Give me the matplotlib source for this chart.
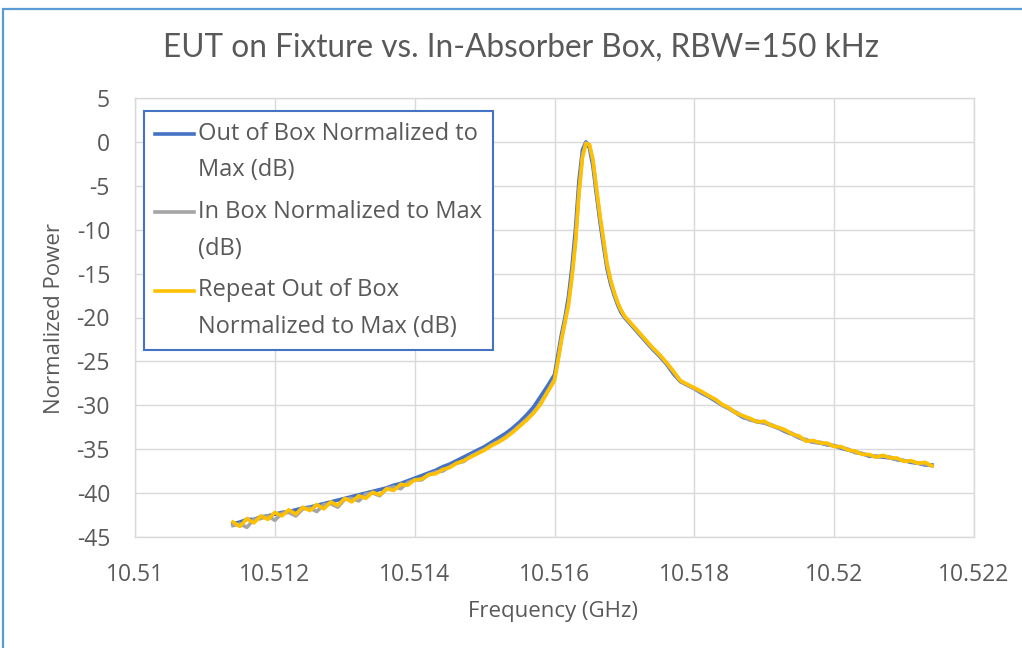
import numpy as np
import matplotlib
matplotlib.use("Agg")
import matplotlib.pyplot as plt
from matplotlib.legend_handler import HandlerLine2D
from matplotlib.patches import Rectangle

# frequency grid (GHz)
freq_low = [10.5114, 10.5115, 10.5116, 10.5117, 10.5118, 10.5119, 10.5120, 10.5121, 10.5122, 10.5123,
            10.5124, 10.5125, 10.5126, 10.5127, 10.5128, 10.5129, 10.5130, 10.5131, 10.5132, 10.5133,
            10.5134, 10.5135, 10.5136, 10.5137, 10.5138, 10.5139, 10.5140, 10.5141, 10.5142, 10.5143,
            10.5144, 10.5145, 10.5146, 10.5147, 10.5148, 10.5149, 10.5150, 10.5151, 10.5152, 10.5153,
            10.5154, 10.5155, 10.5156, 10.5157, 10.5158, 10.5159]
freq_peak = [10.51600, 10.51605, 10.51610, 10.51615, 10.51620, 10.51625, 10.51630, 10.51635, 10.51640,
             10.51645, 10.51650, 10.51655, 10.51660, 10.51665, 10.51670, 10.51675, 10.51680, 10.51685,
             10.51690, 10.51695, 10.51700]
freq_high = [10.5171, 10.5172, 10.5173, 10.5174, 10.5175, 10.5176, 10.5177, 10.5178, 10.5179, 10.5180,
             10.5181, 10.5182, 10.5183, 10.5184, 10.5185, 10.5186, 10.5187, 10.5188, 10.5189, 10.5190,
             10.5191, 10.5192, 10.5193, 10.5194, 10.5195, 10.5196, 10.5197, 10.5198, 10.5199, 10.5200,
             10.5201, 10.5202, 10.5203, 10.5204, 10.5205, 10.5206, 10.5207, 10.5208, 10.5209, 10.5210,
             10.5211, 10.5212, 10.5213, 10.5214]

# Out of Box normalized to max (dB)
out_box = [-43.5, -43.3, -43.0, -43.0, -42.7, -42.6, -42.4, -42.2, -42.1, -41.9,
           -41.7, -41.6, -41.4, -41.2, -41.0, -40.8, -40.6, -40.4, -40.2, -40.0,
           -39.8, -39.6, -39.4, -39.1, -38.9, -38.6, -38.3, -38.0, -37.7, -37.4,
           -37.0, -36.7, -36.3, -35.9, -35.5, -35.1, -34.7, -34.2, -33.7, -33.2,
           -32.6, -31.9, -31.1, -30.2, -29.0, -27.8,
           -26.5, -24.2, -21.9, -20.0, -17.6, -14.2, -9.9, -4.4, -0.9, 0.0,
           -0.7, -2.8, -6.0, -9.1, -11.8, -14.4, -16.1, -17.4, -18.5, -19.4, -20.0,
           -20.9, -21.8, -22.7, -23.6, -24.4, -25.3, -26.4, -27.3, -27.7, -28.1,
           -28.6, -29.0, -29.5, -30.0, -30.4, -30.9, -31.4, -31.6, -31.9, -32.0,
           -32.3, -32.6, -33.0, -33.3, -33.7, -34.0, -34.2, -34.3, -34.5, -34.6,
           -34.9, -35.1, -35.3, -35.5, -35.8, -35.8, -35.9, -36.0, -36.2, -36.3,
           -36.5, -36.6, -36.8, -36.8]

# In Box normalized to max (dB)
in_box = [-43.7, -43.5, -43.9, -43.0, -42.9, -42.6, -43.1, -42.3, -42.2, -42.6,
          -41.8, -41.7, -42.1, -41.3, -41.2, -41.6, -40.7, -40.6, -40.9, -40.1,
          -40.0, -40.3, -39.5, -39.3, -39.5, -38.8, -38.5, -38.5, -37.9, -37.6,
          -37.5, -37.0, -36.6, -36.4, -35.8, -35.4, -35.0, -34.5, -34.1, -33.6,
          -33.0, -32.3, -31.6, -30.8, -29.8, -28.4,
          -27.0, -24.8, -22.4, -20.4, -18.3, -15.1, -11.1, -5.5, -1.5, -0.1,
          -0.4, -2.2, -5.5, -8.6, -11.3, -14.0, -15.8, -17.2, -18.3, -19.2, -19.9,
          -20.8, -21.7, -22.6, -23.5, -24.3, -25.2, -26.2, -27.2, -27.7, -28.1,
          -28.5, -28.9, -29.4, -30.0, -30.4, -30.8, -31.3, -31.7, -31.8, -32.0,
          -32.2, -32.6, -32.9, -33.2, -33.7, -33.9, -34.2, -34.2, -34.5, -34.6,
          -34.8, -35.0, -35.4, -35.5, -35.7, -35.9, -35.8, -35.9, -36.2, -36.3,
          -36.4, -36.6, -36.7, -36.9]

# Repeat Out of Box normalized to max (dB)
repeat_out = [-43.3, -43.8, -42.9, -43.4, -42.6, -43.0, -42.2, -42.6, -41.9, -42.4,
              -41.6, -42.0, -41.3, -41.8, -41.0, -41.4, -40.6, -41.0, -40.3, -40.6,
              -39.9, -40.2, -39.5, -39.7, -39.0, -39.1, -38.5, -38.4, -37.9, -37.8,
              -37.3, -37.1, -36.6, -36.3, -35.9, -35.5, -35.1, -34.6, -34.2, -33.7,
              -33.1, -32.4, -31.7, -30.9, -29.9, -28.5,
              -27.2, -25.0, -22.6, -20.6, -18.6, -15.5, -11.6, -6.0, -1.8, -0.2,
              -0.3, -2.0, -5.2, -8.3, -11.0, -13.8, -15.6, -17.0, -18.2, -19.1, -19.8,
              -20.7, -21.6, -22.5, -23.4, -24.2, -25.1, -26.1, -27.2, -27.6, -28.0,
              -28.4, -28.9, -29.3, -29.9, -30.3, -30.9, -31.2, -31.5, -31.9, -31.8,
              -32.3, -32.5, -32.8, -33.3, -33.5, -34.1, -34.0, -34.3, -34.3, -34.7,
              -34.7, -35.1, -35.2, -35.6, -35.6, -35.9, -35.7, -36.0, -36.0, -36.4,
              -36.3, -36.6, -36.5, -36.9]

series_labels = ["Out of Box Normalized to\nMax (dB)",
                 "In Box Normalized to Max\n(dB)",
                 "Repeat Out of Box\nNormalized to Max (dB)"]
x_ticks = [10.51, 10.512, 10.514, 10.516, 10.518, 10.52, 10.522]
x_tick_labels = ["10.51", "10.512", "10.514", "10.516", "10.518", "10.52", "10.522"]
y_ticks = [-45, -40, -35, -30, -25, -20, -15, -10, -5, 0, 5]

TXT = "#595959"
GRID = "#D9D9D9"


class FirstLineHandler(HandlerLine2D):
    # put the legend line next to the first text line, like Excel does
    def create_artists(self, legend, orig_handle, xdescent, ydescent, width, height, fontsize, trans):
        arts = super().create_artists(legend, orig_handle, xdescent, ydescent, width, height, fontsize, trans)
        for a in arts:
            a.set_ydata(np.asarray(a.get_ydata()) + 0.8 * fontsize)
        return arts


plt.rcParams['font.family'] = ['Open Sans', 'DejaVu Sans']
plt.rcParams['axes.unicode_minus'] = False

freq = freq_low + freq_peak + freq_high

fig = plt.figure(figsize=(10.22, 6.48), dpi=100)
ax = fig.add_axes([135 / 1022, 1 - 537 / 648, 839 / 1022, 439 / 648])

l1, = ax.plot(freq, out_box, color="#4472C4", lw=2.6, label=series_labels[0])
l2, = ax.plot(freq, in_box, color="#A5A5A5", lw=2.6, label=series_labels[1])
l3, = ax.plot(freq, repeat_out, color="#FFC000", lw=2.6, label=series_labels[2])

ax.set_xlim(10.51, 10.522)
ax.set_ylim(-45, 5)
ax.set_xticks(x_ticks)
ax.set_xticklabels(x_tick_labels)
ax.set_yticks(y_ticks)
ax.grid(True, color=GRID, lw=1.0)
ax.set_axisbelow(True)
for s in ax.spines.values():
    s.set_color(GRID)
    s.set_linewidth(1.0)
ax.tick_params(axis='both', length=0, labelsize=16.5, labelcolor=TXT)
ax.tick_params(axis='y', pad=18)
ax.tick_params(axis='x', pad=19)

leg = ax.legend(handles=[l1, l2, l3], loc='upper left', bbox_to_anchor=(0.0107, 0.970),
                borderaxespad=0, fontsize=17, frameon=True, fancybox=False, framealpha=1,
                edgecolor="#4472C4", handlelength=1.65, handletextpad=0.2, labelspacing=0.75,
                borderpad=0.45, handler_map={matplotlib.lines.Line2D: FirstLineHandler()})
leg.get_frame().set_linewidth(1.5)
for t in leg.get_texts():
    t.set_color(TXT)
    t.set_linespacing(1.7)

fig.text(521 / 1022, 1 - 48 / 648, "EUT on Fixture vs. In-Absorber Box, RBW=150 kHz",
         ha='center', va='center', fontsize=22.7, color=TXT, family=['Lato', 'DejaVu Sans'])
fig.text(55 / 1022, 1 - 318 / 648, "Normalized Power", rotation=90,
         ha='center', va='center', fontsize=16, color=TXT)
fig.text(553 / 1022, 1 - 611 / 648, "Frequency (GHz)",
         ha='center', va='center', fontsize=16, color=TXT)

# chart area frame (only left and top edges visible in the crop)
fig.patches.append(Rectangle((3 / 1022, -0.1), 1.2, 1.1 - 9 / 648, transform=fig.transFigure,
                             fill=False, edgecolor="#5B9BD5", lw=1.6))

fig.savefig("out.png", dpi=100)
